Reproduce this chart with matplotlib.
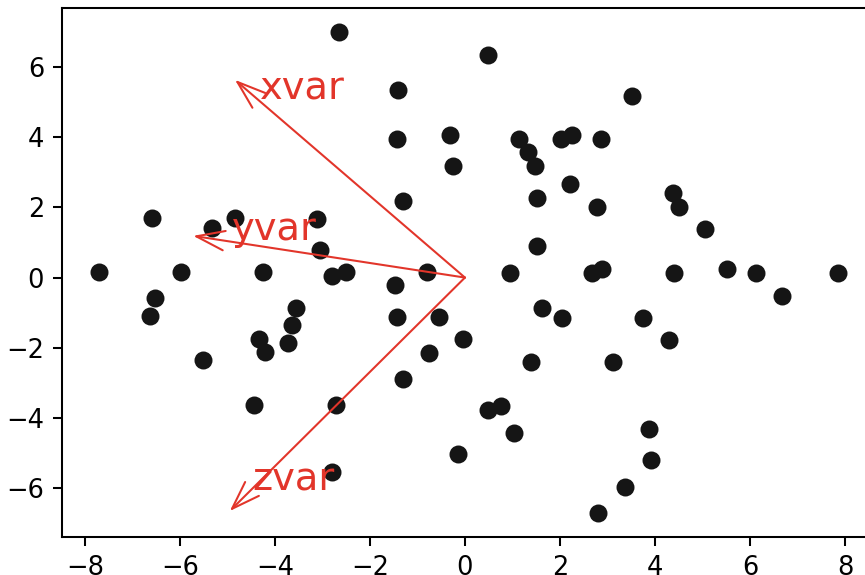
"""
biplot.py
---------
Scatter of the projected samples with the three variable loadings drawn
as open-headed arrows from the origin.
"""

import matplotlib
matplotlib.use("Agg")
import matplotlib.pyplot as plt

# ── Projected samples ───────────────────────────────────────────────────────
PC1 = [-2.65, -1.41, -1.43, -0.32, -0.26, -1.31, -6.58, -5.33, -4.84, -3.12,
       -3.05, -7.70, -5.97, -4.25, -2.79, -2.51, -0.79, -1.47,
       0.48, 3.51, 1.14, 1.33, 1.47, 2.03, 2.25, 2.87, 2.22, 1.52,
       2.77, 4.37, 4.50, 5.05, 1.51, 0.95, 2.67, 2.89, 4.40, 5.51,
       6.13, 7.86, 6.67,
       -6.53, -6.62, -5.52, -4.34, -4.20, -3.56, -3.63, -3.72, -4.44,
       -2.72, -2.79, -1.43, -0.54, -0.75, -0.05, -1.31, -0.15,
       1.63, 2.04, 3.75, 4.30, 1.39, 3.12, 0.48, 0.76, 1.03, 3.87,
       3.92, 3.36, 2.79]
PC2 = [7.00, 5.34, 3.95, 4.07, 3.19, 2.18, 1.69, 1.42, 1.69, 1.67,
       0.80, 0.17, 0.17, 0.17, 0.04, 0.16, 0.16, -0.21,
       6.36, 5.19, 3.95, 3.57, 3.19, 3.95, 4.07, 3.95, 2.67, 2.28,
       2.02, 2.41, 2.02, 1.39, 0.90, 0.14, 0.14, 0.25, 0.14, 0.25,
       0.12, 0.12, -0.53,
       -0.59, -1.09, -2.36, -1.76, -2.12, -0.86, -1.36, -1.86, -3.64,
       -3.64, -5.55, -1.12, -1.12, -2.14, -1.76, -2.88, -5.04,
       -0.88, -1.14, -1.15, -1.79, -2.40, -2.40, -3.79, -3.66, -4.42, -4.31,
       -5.19, -5.96, -6.71]

# ── Variable loadings (arrow tips) and their labels ─────────────────────────
VAR_NAMES = ["xvar", "yvar", "zvar"]
LOAD_X    = [-4.84, -5.72, -4.95]
LOAD_Y    = [5.64, 1.19, -6.66]
LABEL_X   = [-4.32, -4.91, -4.47]
LABEL_Y   = [5.07, 1.07, -6.07]

# ── Plot settings ────────────────────────────────────────────────────────────
DPI       = 185
FIGSIZE   = (865 / DPI, 575 / DPI)
RED       = "#e2352a"
DOT       = "#151515"
SAVE_PATH = "out.png"


def main():
    fig = plt.figure(figsize=FIGSIZE, dpi=DPI)
    # axes runs past the right edge of the canvas, as in the reference
    ax = fig.add_axes([62 / 865, 38 / 575, 813.5 / 865, 529 / 575])

    ax.scatter(PC1, PC2, color=DOT, s=36, zorder=2)

    for name, lx, ly, tx, ty in zip(VAR_NAMES, LOAD_X, LOAD_Y, LABEL_X, LABEL_Y):
        ax.annotate("", xy=(lx, ly), xytext=(0, 0),
                    arrowprops=dict(arrowstyle="->,head_length=0.55,head_width=0.19",
                                    color=RED, lw=0.8, mutation_scale=20,
                                    shrinkA=0, shrinkB=0),
                    zorder=3)
        ax.text(tx, ty, name, color=RED, fontsize=15,
                ha="left", va="baseline", zorder=4)

    ax.set_xlim(-8.48, 8.64)
    ax.set_ylim(-7.40, 7.69)

    fig.savefig(SAVE_PATH, dpi=DPI)
    plt.close(fig)


if __name__ == "__main__":
    main()
